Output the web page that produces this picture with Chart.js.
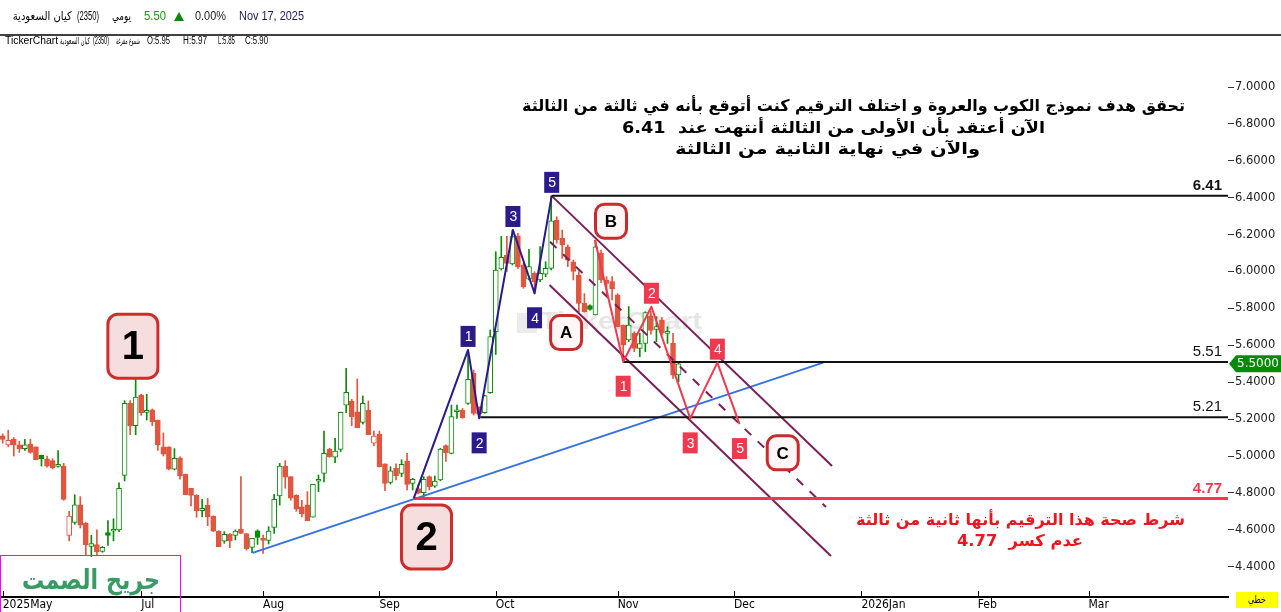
<!DOCTYPE html>
<html>
<head>
<meta charset="utf-8">
<script src="https://cdn.jsdelivr.net/npm/chart.js@4"></script>
<style>
  html, body { margin: 0; padding: 0; background: #fff; overflow: hidden; }
  canvas { display: block; }
</style>
</head>
<body>
<canvas id="chart" width="1281" height="612"></canvas>
<script>
// daily candles, 2025 (index 0 = first visible bar)
const opens = [5.11,5.06,5.09,5.06,5.04,5.065,5.05,5.005,4.985,4.975,
  4.944,4.945,4.57,4.64,4.735,4.635,4.51,4.52,4.483,4.585,
  4.592,4.60,4.895,5.285,5.165,5.33,5.236,5.25,5.195,5.05,
  5.05,4.928,4.99,4.90,4.825,4.787,4.704,4.733,4.675,4.593,
  4.539,4.577,4.57,4.604,4.58,4.505,4.595,4.548,4.543,4.613,
  4.783,4.946,4.888,4.788,4.724,4.735,4.668,4.863,4.906,5.038,
  4.993,5.036,5.275,5.298,5.24,5.182,5.249,5.069,5.119,4.957,
  4.857,4.935,4.906,4.973,4.852,4.823,4.801,4.888,4.837,4.87,
  5.056,5.014,5.24,5.249,5.285,5.448,5.267,5.235,5.343,5.674,
  6.014,6.089,6.041,6.194,6.035,5.959,5.99,5.954,5.986,6.017,
  6.279,6.18,6.134,6.053,5.981,5.827,5.815,5.764,6.098,5.954,
  5.945,5.873,5.71,5.629,5.665,5.583,5.61,5.76,5.686,5.737,
  5.665,5.611,5.439];
const highs = [5.12,5.14,5.10,5.08,5.09,5.09,5.05,5.005,5.00,4.985,
  5.03,4.96,4.70,4.79,4.78,4.64,4.57,4.60,4.51,4.65,
  4.66,4.855,5.30,5.30,5.42,5.335,5.335,5.255,5.195,5.125,
  5.05,5.04,4.995,4.902,4.825,4.79,4.765,4.77,4.675,4.595,
  4.59,4.58,4.60,4.888,4.58,4.554,4.60,4.572,4.617,4.792,
  4.96,4.975,4.888,4.79,4.76,4.807,4.846,4.897,5.135,5.042,
  5.096,5.237,5.475,5.307,5.417,5.325,5.298,5.135,5.135,4.957,
  4.942,4.957,4.98,5.014,4.879,4.843,4.888,4.892,4.892,5.042,
  5.06,5.276,5.276,5.258,5.57,5.466,5.267,5.33,5.683,6.107,
  6.19,6.19,6.225,6.207,6.044,6.12,5.999,6.135,6.053,6.41,
  6.297,6.225,6.144,6.062,6.0,5.88,5.82,6.17,6.116,5.972,
  5.972,5.88,5.71,5.81,5.674,5.665,5.782,5.785,5.755,5.75,
  5.70,5.665,5.511];
const lows = [5.07,5.05,5.00,5.02,5.03,5.015,4.98,4.945,4.94,4.93,
  4.94,4.76,4.54,4.63,4.61,4.46,4.455,4.46,4.478,4.515,
  4.54,4.59,4.865,5.115,5.115,5.22,5.195,5.165,5.03,5.0,
  4.925,4.925,4.875,4.79,4.73,4.668,4.67,4.622,4.59,4.508,
  4.527,4.503,4.545,4.58,4.49,4.476,4.521,4.472,4.523,4.58,
  4.734,4.825,4.76,4.70,4.67,4.65,4.668,4.807,4.86,4.993,
  4.964,5.024,5.235,5.164,5.154,5.173,5.116,5.056,4.94,4.812,
  4.848,4.87,4.888,4.816,4.816,4.795,4.78,4.816,4.83,4.866,
  4.97,5.011,5.204,5.204,5.28,5.222,5.204,5.231,5.34,5.55,
  6.008,6.0,6.035,6.017,5.909,5.954,5.878,5.945,5.972,6.008,
  6.153,6.071,6.026,5.954,5.782,5.78,5.79,5.764,5.94,5.87,
  5.846,5.70,5.51,5.62,5.565,5.538,5.565,5.66,5.62,5.655,
  5.61,5.42,5.403];
const closes = [5.09,5.085,5.06,5.04,5.06,5.02,4.98,4.985,4.945,4.935,
  4.955,4.765,4.675,4.735,4.625,4.52,4.525,4.48,4.505,4.57,
  4.602,4.825,5.285,5.165,5.32,5.235,5.247,5.185,5.06,5.01,
  4.928,4.987,4.893,4.79,4.787,4.704,4.716,4.671,4.592,4.508,
  4.575,4.541,4.593,4.581,4.498,4.554,4.559,4.543,4.593,4.765,
  4.946,4.885,4.772,4.712,4.687,4.65,4.846,4.874,5.014,4.996,
  5.027,5.237,5.345,5.213,5.154,5.285,5.116,5.108,4.942,4.852,
  4.919,4.893,4.955,4.846,4.873,4.798,4.873,4.834,4.864,5.038,
  5.018,5.213,5.248,5.208,5.415,5.231,5.228,5.327,5.647,6.008,
  6.077,6.044,6.189,6.026,5.918,6.026,5.945,5.99,6.017,6.275,
  6.171,6.144,6.062,6.0,5.827,5.782,5.795,6.134,5.954,5.936,
  5.905,5.701,5.601,5.71,5.583,5.61,5.777,5.68,5.701,5.667,
  5.675,5.439,5.50];

const monthTicks = [0, 25, 47, 68, 89, 111, 132, 155, 176, 196];
const monthLabels = ["2025May", "Jul", "Aug", "Sep", "Oct", "Nov", "Dec", "2026Jan", "Feb", "Mar"];
const yTicks = [4.4, 4.6, 4.8, 5.0, 5.2, 5.4, 5.6, 5.8, 6.0, 6.2, 6.4, 6.6, 6.8, 7.0];

// annotation drawing (bar index, price)
const levels = [6.41, 5.51, 5.21, 4.77];
const levelStarts = [99.1, 112, 86.2, 74.2];
const impulseWave = [[74.2, 4.77], [84, 5.575], [86, 5.204], [92.1, 6.225], [96, 5.882], [99.1, 6.41]];
const correctionWave = [[106.9, 6.171], [112, 5.511], [117.1, 5.809], [124.1, 5.204], [129, 5.506], [133, 5.173]];
const trendLine = [[45.1, 4.475], [148.1, 5.506]];
const channelUpper = [[99.1, 6.41], [149.7, 4.946]];
const channelMiddle = [[98.8, 6.161], [148.6, 4.724]];
const channelLower = [[98.7, 5.927], [149.5, 4.458]];
const degreeLabels = [["1", 23.5, 5.595], ["2", 76.5, 4.561]];
const abcLabels = [["A", 101.7, 5.669], ["B", 109.8, 6.273], ["C", 140.8, 5.017]];

const noteLines = [
  "تحقق هدف نموذج الكوب والعروة و اختلف الترقيم كنت أتوقع بأنه في ثالثة من الثالثة",
  "الآن أعتقد بأن الأولى من الثالثة أنتهت عند  6.41",
  "والآن في نهاية الثانية من الثالثة"
];
const warnLines = ["شرط صحة هذا الترقيم بأنها ثانية من ثالثة", "عدم كسر  4.77"];

const GREEN = "#0b8a0b";
const RED = "#e2553f";
const NAVY = "#2b1a8c";
const WAVE_RED = "#f0394f";
const MAROON = "#7d1f57";
const AR = '"DejaVu Sans", sans-serif';
const LAT = '"Liberation Sans", Arial, sans-serif';

const idx = opens.map((_, i) => i);
const hollow = idx.map(i => closes[i] > opens[i]);
const up = idx.map(i => (i === 0 ? closes[i] >= opens[i] : closes[i] >= closes[i - 1]));
const colorOf = i => (up[i] ? GREEN : RED);

function strokeLine(ctx, pts, color, width, dash) {
  ctx.save();
  ctx.strokeStyle = color;
  ctx.lineWidth = width;
  ctx.lineJoin = "round";
  ctx.setLineDash(dash || []);
  ctx.beginPath();
  pts.forEach((p, k) => (k ? ctx.lineTo(p[0], p[1]) : ctx.moveTo(p[0], p[1])));
  ctx.stroke();
  ctx.restore();
}

function fitText(ctx, text, cx, cy, w, font, color, rtl) {
  ctx.save();
  ctx.font = font;
  ctx.fillStyle = color;
  ctx.direction = rtl ? "rtl" : "ltr";
  ctx.textAlign = "center";
  ctx.textBaseline = "middle";
  const m = ctx.measureText(text).width;
  ctx.translate(cx, cy);
  ctx.scale(w / m, 1);
  ctx.fillText(text, 0, 0);
  ctx.restore();
}

function box(ctx, cx, cy, w, h, r, fill, stroke, lw) {
  ctx.save();
  ctx.beginPath();
  ctx.roundRect(cx - w / 2, cy - h / 2, w, h, r);
  ctx.fillStyle = fill;
  ctx.fill();
  if (stroke) {
    ctx.lineWidth = lw;
    ctx.strokeStyle = stroke;
    ctx.stroke();
  }
  ctx.restore();
}

function centerText(ctx, text, x, y, font, color) {
  ctx.save();
  ctx.font = font;
  ctx.fillStyle = color;
  ctx.textAlign = "center";
  ctx.textBaseline = "middle";
  ctx.fillText(text, x, y);
  ctx.restore();
}

const overlay = {
  id: "overlay",
  beforeDatasetsDraw(chart) {
    const ctx = chart.ctx;
    // faint TickerChart watermark
    ctx.save();
    ctx.fillStyle = "#ececec";
    ctx.fillRect(517, 313, 20, 20);
    ctx.restore();
    fitText(ctx, "TickerChart", 621, 322, 162, "bold 24px " + LAT, "#e6e6e6");
  },
  afterDatasetsDraw(chart) {
    const ctx = chart.ctx;
    const xs = chart.scales.x, ys = chart.scales.y;
    const P = p => [xs.getPixelForValue(p[0]), ys.getPixelForValue(p[1])];
    const right = chart.chartArea.right;

    strokeLine(ctx, trendLine.map(P), "#3271ea", 2);
    strokeLine(ctx, channelUpper.map(P), MAROON, 2);
    strokeLine(ctx, channelLower.map(P), MAROON, 2);
    strokeLine(ctx, channelMiddle.map(P), MAROON, 2, [9, 9]);

    levels.forEach((lv, k) => {
      const y = ys.getPixelForValue(lv);
      const x0 = xs.getPixelForValue(levelStarts[k]);
      const red = lv === 4.77;
      strokeLine(ctx, [[x0, y], [right, y]], red ? WAVE_RED : "#111", red ? 3 : 2);
      ctx.save();
      ctx.font = (k === 0 || red ? "bold " : "") + "15px " + LAT;
      ctx.fillStyle = red ? WAVE_RED : "#111";
      ctx.textAlign = "right";
      ctx.textBaseline = "alphabetic";
      ctx.fillText(lv.toFixed(2), right - 6, y - (red ? 5 : 6));
      ctx.restore();
    });

    strokeLine(ctx, impulseWave.map(P), NAVY, 2);
    strokeLine(ctx, correctionWave.map(P), WAVE_RED, 2);

    const tag = (wave, fill) => {
      for (let k = 1; k < wave.length; k++) {
        const [x, y] = P(wave[k]);
        const peak = wave[k][1] > wave[k - 1][1];
        const cy = y + (peak ? -13.5 : 24.5);
        ctx.save();
        ctx.fillStyle = fill;
        ctx.fillRect(x - 7.5, cy - 10.5, 15, 21);
        ctx.restore();
        centerText(ctx, String(k), x + 0.5, cy + 1, "14px " + LAT, "#fff");
      }
    };
    tag(impulseWave, NAVY);
    tag(correctionWave, WAVE_RED);

    degreeLabels.forEach(([t, i, v]) => {
      const [x, y] = P([i, v]);
      box(ctx, x, y, 50, 64, 10, "#f7dede", "#cf2c2c", 3);
      centerText(ctx, t, x, y + 2, "bold 40px " + LAT, "#000");
    });
    abcLabels.forEach(([t, i, v]) => {
      const [x, y] = P([i, v]);
      box(ctx, x, y, 31, 34, 9, "#fff7f7", "#c92a2a", 3);
      centerText(ctx, t, x, y + 1, "bold 17px " + LAT, "#000");
    });

    // commentary
    fitText(ctx, noteLines[0], 853.5, 107, 663, "bold 16px " + AR, "#000", true);
    fitText(ctx, noteLines[1], 833.5, 128.5, 423, "bold 16px " + AR, "#000", true);
    fitText(ctx, noteLines[2], 827.5, 149.5, 305, "bold 16px " + AR, "#000", true);
    fitText(ctx, warnLines[0], 1020.5, 520.5, 329, "bold 16px " + AR, "#f0141e", true);
    fitText(ctx, warnLines[1], 1020, 542, 126, "bold 16px " + AR, "#f0141e", true);
  },
  afterDraw(chart) {
    const ctx = chart.ctx;
    const xs = chart.scales.x, ys = chart.scales.y;
    const area = chart.chartArea;

    // month tick marks above the axis line
    ctx.save();
    ctx.strokeStyle = "#000";
    ctx.lineWidth = 1;
    monthTicks.forEach(t => {
      const x = Math.round(xs.getPixelForValue(t)) + 0.5;
      ctx.beginPath();
      ctx.moveTo(x, area.bottom - 6);
      ctx.lineTo(x, area.bottom);
      ctx.stroke();
    });
    ctx.restore();

    // last price tag
    const py = ys.getPixelForValue(closes[closes.length - 1]);
    ctx.save();
    ctx.fillStyle = "#078a07";
    ctx.beginPath();
    ctx.moveTo(1229, py);
    ctx.lineTo(1236, py - 8.5);
    ctx.lineTo(1281, py - 8.5);
    ctx.lineTo(1281, py + 8.5);
    ctx.lineTo(1236, py + 8.5);
    ctx.closePath();
    ctx.fill();
    ctx.restore();
    centerText(ctx, closes[closes.length - 1].toFixed(4), 1258, py + 0.5, "12px " + AR, "#fff");

    // chart type box
    ctx.save();
    ctx.fillStyle = "#ffff00";
    ctx.fillRect(1236, 592, 42, 16);
    ctx.restore();
    fitText(ctx, "خطي", 1257, 600, 18, "10px " + AR, "#000", true);

    // signature box
    ctx.save();
    ctx.strokeStyle = "#ff00ff";
    ctx.lineWidth = 1;
    ctx.strokeRect(0.5, 555.5, 180, 60);
    ctx.restore();
    fitText(ctx, "جريح الصمت", 91, 582, 138, "bold 27px " + AR, "#3a9a66", true);

    // header
    ctx.save();
    ctx.fillStyle = "#fff";
    ctx.fillRect(0, 0, 1281, 35);
    ctx.strokeStyle = "#000";
    ctx.lineWidth = 1.5;
    ctx.beginPath();
    ctx.moveTo(0, 35);
    ctx.lineTo(1281, 35);
    ctx.stroke();
    ctx.restore();
    fitText(ctx, "كيان السعودية", 42.2, 16.5, 59, "12px " + AR, "#000", true);
    fitText(ctx, "(2350)", 88, 16.5, 22, "12px " + LAT, "#000");
    fitText(ctx, "يومي", 121.5, 16.5, 19, "12px " + AR, "#000", true);
    fitText(ctx, "5.50", 155, 16.5, 22, "13px " + LAT, "#0a9a0a");
    ctx.save();
    ctx.fillStyle = "#0a8a0a";
    ctx.beginPath();
    ctx.moveTo(174, 21);
    ctx.lineTo(184, 21);
    ctx.lineTo(179, 12);
    ctx.closePath();
    ctx.fill();
    ctx.restore();
    fitText(ctx, "0.00%", 210.5, 16.5, 31, "13px " + LAT, "#222");
    fitText(ctx, "Nov 17, 2025", 271.5, 16.5, 65, "13px " + LAT, "#1b1b5a");

    fitText(ctx, "TickerChart", 31.5, 41.5, 53, "10px " + LAT, "#000");
    fitText(ctx, "كيان السعودية", 75, 41.5, 30, "9px " + AR, "#000", true);
    fitText(ctx, "(2350)", 101, 41.5, 16, "10px " + LAT, "#000");
    fitText(ctx, "شموع مفرغة", 128, 41.5, 24, "9px " + AR, "#000", true);
    fitText(ctx, "O:5.95", 158.5, 41.5, 23, "10px " + LAT, "#000");
    fitText(ctx, "H:5.97", 195, 41.5, 24, "10px " + LAT, "#000");
    fitText(ctx, "L:5.85", 226.5, 41.5, 17, "10px " + LAT, "#000");
    fitText(ctx, "C:5.90", 256.5, 41.5, 23, "10px " + LAT, "#000");
  }
};

const bodies = {
  type: "bar",
  data: idx.map(i => ({ x: i, y: [Math.min(opens[i], closes[i]), Math.max(opens[i], closes[i])] })),
  backgroundColor: idx.map(i => (hollow[i] ? "#fff" : colorOf(i))),
  borderColor: idx.map(colorOf),
  borderWidth: 1,
  borderSkipped: false,
  barThickness: 5,
  minBarLength: 2,
  grouped: false,
  order: 0
};
const wicks = {
  type: "bar",
  data: idx.map(i => ({ x: i, y: [lows[i], highs[i]] })),
  backgroundColor: idx.map(colorOf),
  borderWidth: 0,
  barThickness: 1,
  minBarLength: 1,
  grouped: false,
  order: 1
};

const chart = new Chart(document.getElementById("chart"), {
  type: "bar",
  data: { datasets: [bodies, wicks] },
  plugins: [overlay],
  options: {
    responsive: false,
    animation: false,
    layout: { padding: { top: 36, left: 0, right: 0, bottom: 0 } },
    plugins: { legend: { display: false }, tooltip: { enabled: false } },
    scales: {
      x: {
        type: "linear",
        min: -2.7 / 5.54,
        max: -2.7 / 5.54 + 1228 / 5.54,
        offset: false,
        grid: { display: false, drawTicks: false },
        border: { display: true, color: "#000", width: 2 },
        afterBuildTicks: s => { s.ticks = monthTicks.map(v => ({ value: v })); },
        afterFit: s => { s.height = 15; },
        ticks: {
          autoSkip: false,
          maxRotation: 0,
          align: "start",
          padding: 1,
          color: "#000",
          font: { family: '"DejaVu Sans Condensed", "DejaVu Sans", sans-serif', size: 12 },
          callback: (v, k) => monthLabels[k]
        }
      },
      y: {
        position: "right",
        min: 7.0 - 510 / 184.5,
        max: 7.0 + 51 / 184.5,
        grid: { display: true, drawOnChartArea: false, drawTicks: true, tickLength: 6, color: "#333" },
        border: { display: false },
        afterBuildTicks: s => { s.ticks = yTicks.map(v => ({ value: v })); },
        afterFit: s => { s.width = 53; },
        ticks: {
          padding: 1,
          color: "#222",
          font: { family: AR, size: 11.5 },
          callback: v => v.toFixed(4)
        }
      }
    }
  }
});
</script>
</body>
</html>
